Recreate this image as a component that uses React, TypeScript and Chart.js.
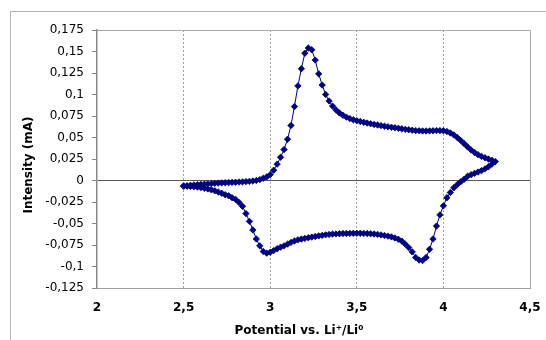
import React, { useEffect, useRef } from "react";
import { Chart, registerables } from "chart.js";

Chart.register(...registerables);

// Anodic (forward) sweep, V vs Li+/Li0
const forwardPotential = [
  2.5, 2.52, 2.54, 2.56, 2.58, 2.6, 2.62, 2.64, 2.66, 2.68, 2.7, 2.72, 2.74, 2.76, 2.78, 2.8,
  2.82, 2.84, 2.86, 2.88, 2.9, 2.92, 2.94, 2.96, 2.98, 3.0, 3.02, 3.04, 3.06, 3.08, 3.1, 3.12,
  3.14, 3.16, 3.18, 3.2, 3.22, 3.24, 3.26, 3.28, 3.3, 3.32, 3.34, 3.36, 3.38, 3.4, 3.42, 3.44,
  3.46, 3.48, 3.5, 3.52, 3.54, 3.56, 3.58, 3.6, 3.62, 3.64, 3.66, 3.68, 3.7, 3.72, 3.74, 3.76,
  3.78, 3.8, 3.82, 3.84, 3.86, 3.88, 3.9, 3.92, 3.94, 3.96, 3.98, 4.0, 4.02, 4.04, 4.06, 4.08,
  4.1, 4.12, 4.14, 4.16, 4.18, 4.2, 4.22, 4.24, 4.26, 4.28, 4.3,
];
const forwardCurrent = [
  -0.0065, -0.006, -0.0056, -0.0052, -0.0048, -0.0045, -0.0042, -0.0039, -0.0036, -0.0033,
  -0.003, -0.0028, -0.0026, -0.0024, -0.0022, -0.002, -0.0018, -0.0016, -0.0013, -0.001,
  -0.0006, 0.0, 0.001, 0.0026, 0.0042, 0.0068, 0.012, 0.019, 0.027, 0.036, 0.048, 0.064,
  0.086, 0.11, 0.13, 0.148, 0.154, 0.152, 0.14, 0.124, 0.111, 0.1, 0.0925, 0.0865, 0.082,
  0.0785, 0.0758, 0.0737, 0.072, 0.0706, 0.0695, 0.0686, 0.0677, 0.0668, 0.066, 0.0652,
  0.0645, 0.0638, 0.0631, 0.0625, 0.0619, 0.0613, 0.0607, 0.0601, 0.0595, 0.059, 0.0585,
  0.058, 0.0578, 0.0576, 0.0576, 0.0577, 0.0578, 0.058, 0.058, 0.0578, 0.057, 0.0553, 0.053,
  0.05, 0.0465, 0.0428, 0.039, 0.0355, 0.0325, 0.03, 0.028, 0.0265, 0.025, 0.0235, 0.022,
];

// Cathodic (reverse) sweep
const reversePotential = [
  4.28, 4.26, 4.24, 4.22, 4.2, 4.18, 4.16, 4.14, 4.12, 4.1, 4.08, 4.06, 4.04, 4.02, 4.0, 3.98,
  3.96, 3.94, 3.92, 3.9, 3.88, 3.86, 3.84, 3.82, 3.8, 3.78, 3.76, 3.74, 3.72, 3.7, 3.68, 3.66,
  3.64, 3.62, 3.6, 3.58, 3.56, 3.54, 3.52, 3.5, 3.48, 3.46, 3.44, 3.42, 3.4, 3.38, 3.36, 3.34,
  3.32, 3.3, 3.28, 3.26, 3.24, 3.22, 3.2, 3.18, 3.16, 3.14, 3.12, 3.1, 3.08, 3.06, 3.04, 3.02,
  3.0, 2.98, 2.96, 2.94, 2.92, 2.9, 2.88, 2.86, 2.84, 2.82, 2.8, 2.78, 2.76, 2.74, 2.72, 2.7,
  2.68, 2.66, 2.64, 2.62, 2.6, 2.58, 2.56, 2.54, 2.52, 2.5,
];
const reverseCurrent = [
  0.019, 0.016, 0.0135, 0.0115, 0.0098, 0.0083, 0.0068, 0.005, 0.0015, -0.0015, -0.0048,
  -0.0085, -0.014, -0.02, -0.0295, -0.04, -0.053, -0.068, -0.08, -0.0895, -0.093, -0.0925,
  -0.0895, -0.083, -0.078, -0.074, -0.0705, -0.0683, -0.0668, -0.0656, -0.0647, -0.064,
  -0.0633, -0.0627, -0.0622, -0.0619, -0.0617, -0.0615, -0.0614, -0.0614, -0.0614, -0.0615,
  -0.0616, -0.0617, -0.0619, -0.0621, -0.0623, -0.0627, -0.0632, -0.0638, -0.0644, -0.0651,
  -0.0658, -0.0665, -0.0673, -0.0681, -0.069, -0.0704, -0.072, -0.074, -0.076, -0.0775,
  -0.0793, -0.0815, -0.0835, -0.0845, -0.0825, -0.076, -0.068, -0.0575, -0.0475, -0.0385,
  -0.03, -0.0255, -0.022, -0.02, -0.0178, -0.0165, -0.0148, -0.0133, -0.012, -0.0108,
  -0.0098, -0.009, -0.0082, -0.0076, -0.0072, -0.0069, -0.0067, -0.0065,
];

const xTicks = [2, 2.5, 3, 3.5, 4, 4.5];
const yMin = -0.125;
const yMax = 0.175;
const yStep = 0.025;

const xTitle = "Potential vs. Li\u207A/Li\u2070";
const yTitle = "Intensity (mA)";

const fmt = (v: number) => {
  const r = Math.round(v * 1000) / 1000;
  return String(r).replace(".", ",");
};

const decorPlugin = {
  id: "decor",
  beforeDraw(chart: any) {
    const { ctx } = chart;
    ctx.save();
    ctx.fillStyle = "#ffffff";
    ctx.fillRect(0, 0, chart.width, chart.height);
    ctx.strokeStyle = "#b4b4b4";
    ctx.lineWidth = 1;
    ctx.strokeRect(10.5, 11.5, 700, 500);
    ctx.restore();
  },
  afterDraw(chart: any) {
    const { ctx, chartArea } = chart;
    ctx.save();
    ctx.strokeStyle = "#a8a8a8";
    ctx.lineWidth = 1;
    ctx.beginPath();
    ctx.moveTo(chartArea.left, chartArea.top + 0.5);
    ctx.lineTo(chartArea.right + 0.5, chartArea.top + 0.5);
    ctx.lineTo(chartArea.right + 0.5, chartArea.bottom);
    ctx.stroke();
    ctx.fillStyle = "#000";
    ctx.font = 'bold 12px "DejaVu Sans"';
    ctx.textAlign = "center";
    ctx.textBaseline = "middle";
    ctx.fillText(xTitle, 299, 331);
    ctx.translate(29, 165);
    ctx.rotate(-Math.PI / 2);
    ctx.fillText(yTitle, 0, 0);
    ctx.restore();
  },
};

export default function App() {
  const ref = useRef<HTMLCanvasElement>(null);
  useEffect(() => {
    if (!ref.current) return;
    const points = [
      ...forwardPotential.map((x, i) => ({ x, y: forwardCurrent[i] })),
      ...reversePotential.map((x, i) => ({ x, y: reverseCurrent[i] })),
    ];
    const chart = new Chart(ref.current, {
      type: "scatter",
      data: {
        datasets: [
          {
            data: points,
            showLine: true,
            borderColor: "#000080",
            backgroundColor: "#000080",
            borderWidth: 1,
            pointStyle: "rectRot",
            pointRadius: 3.2,
            pointBorderWidth: 0.8,
            pointBorderColor: "#000080",
            pointBackgroundColor: "#000080",
          },
        ],
      },
      options: {
        animation: false,
        responsive: false,
        layout: { padding: { left: 0, top: 30, right: 16, bottom: 0 } },
        plugins: { legend: { display: false }, tooltip: { enabled: false } },
        scales: {
          x: {
            type: "linear",
            min: 2,
            max: 4.5,
            afterBuildTicks: (s: any) => {
              s.ticks = xTicks.map((v) => ({ value: v }));
            },
            afterFit: (s: any) => {
              s.height = 52;
              s.paddingLeft = 0;
              s.paddingRight = 0;
            },
            ticks: {
              padding: 13,
              color: "#000",
              font: { family: "DejaVu Sans", size: 12, weight: "bold" },
              callback: (v: any) => fmt(Number(v)),
              maxRotation: 0,
            },
            grid: {
              drawTicks: false,
              color: (c: any) =>
                c.tick && (c.tick.value === 2 || c.tick.value === 4.5) ? "rgba(0,0,0,0)" : "#a0a0a0",
              lineWidth: 1,
            },
            border: { color: "#a0a0a0", width: 1, dash: [2, 2] },
          },
          y: {
            type: "linear",
            min: yMin,
            max: yMax,
            afterFit: (s: any) => {
              s.width = 97;
              s.paddingTop = 0;
              s.paddingBottom = 0;
            },
            ticks: {
              stepSize: yStep,
              padding: 8,
              color: "#000",
              font: { family: "DejaVu Sans", size: 12 },
              callback: (v: any) => fmt(Number(v)),
            },
            grid: {
              drawTicks: true,
              tickLength: 5,
              tickColor: "#888888",
              color: (c: any) =>
                c.tick && Math.abs(c.tick.value) < 1e-9 ? "#555555" : "rgba(0,0,0,0)",
            },
            border: { color: "#888888", width: 1.5 },
          },
        },
      },
      plugins: [decorPlugin],
    });
    return () => chart.destroy();
  }, []);
  return (
    <div style={{ position: "absolute", left: 0, top: 0, width: 546, height: 340 }}>
      <canvas ref={ref} width={546} height={340} style={{ width: 546, height: 340 }} />
    </div>
  );
}
